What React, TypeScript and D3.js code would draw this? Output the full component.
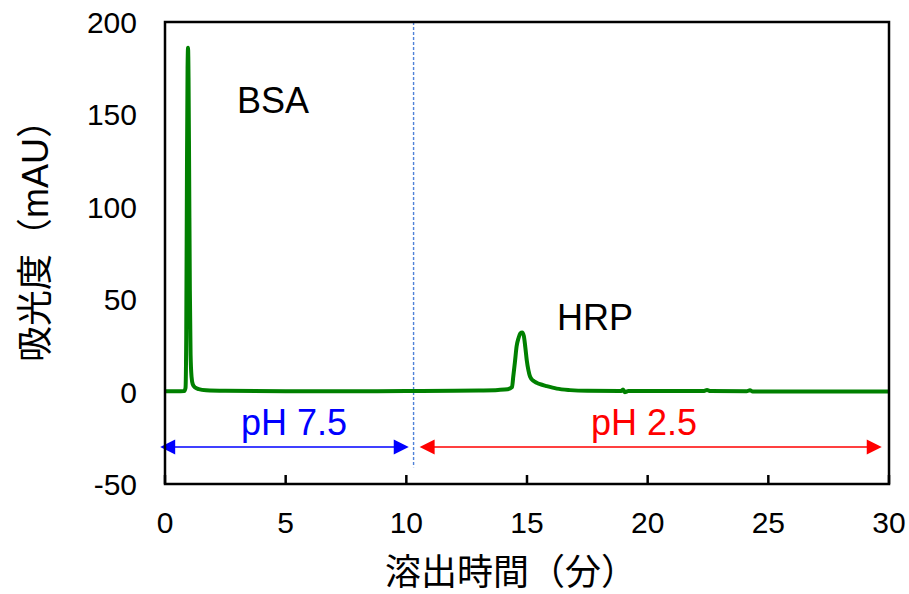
import React from "react";
import * as d3 from "d3";

const timeMin = [0, 0.5, 0.8, 0.85, 0.88, 0.91, 0.935, 0.955, 0.975, 1.0, 1.03, 1.06, 1.1, 1.15, 1.25, 1.4, 1.7, 2.5, 5, 8, 10, 12, 13, 13.8, 14.2, 14.38, 14.43, 14.5, 14.57, 14.65, 14.72, 14.8, 14.87, 14.93, 14.99, 15.06, 15.13, 15.25, 15.4, 15.54, 15.8, 16.23, 16.78, 17.5, 18.9, 18.98, 19.05, 19.2, 22.3, 22.46, 22.6, 24.1, 24.24, 24.35, 30];
const absorbance = [0.2, 0.2, 0.3, 2, 30, 120, 175, 186, 170, 120, 55, 20, 8, 4, 2.2, 1.3, 0.7, 0.4, 0.2, 0.2, 0.3, 0.4, 0.6, 0.9, 1.3, 2.5, 8, 16, 24.5, 29, 31.5, 32, 30, 24, 17, 11.5, 8, 6, 4.8, 4, 3, 1.6, 0.8, 0.4, 0.3, 1.2, -0.3, 0.3, 0.3, 0.8, 0.3, 0.2, 0.7, 0.1, 0.1];

const xTicks = [0, 5, 10, 15, 20, 25, 30];
const yTicks = [-50, 0, 50, 100, 150, 200];

const switchTime = 10.3;
const arrowValue = -30;
const dashBottomValue = -41;
const bsaLabel = "BSA";
const hrpLabel = "HRP";
const phLabels = ["pH 7.5", "pH 2.5"];
const xTitle = "溶出時間（分）";

const W = 909, H = 594;
const M = { left: 165, right: 889, top: 22, bottom: 484 };

export default function App() {
  const x = d3.scaleLinear().domain([0, 30]).range([M.left, M.right]);
  const y = d3.scaleLinear().domain([-50, 200]).range([M.bottom, M.top]);
  const data = timeMin.map((t, i) => [t, absorbance[i]] as [number, number]);
  const line = d3.line<[number, number]>().x(d => x(d[0])).y(d => y(d[1])).curve(d3.curveMonotoneX);
  const latin = "'Liberation Sans', Arial, sans-serif";
  const cjk = "'Noto Sans CJK JP', sans-serif";
  const ay = y(arrowValue);
  const head = (tipX: number, dir: number) => {
    const L = 15, h = 7.5;
    return `${tipX},${ay} ${tipX - dir * L},${ay - h} ${tipX - dir * L},${ay + h}`;
  };
  const bL = x(-0.2), bR = x(10.1), rL = x(10.55), rR = x(29.7);
  return (
    <div style={{ position: "absolute", left: 0, top: 0 }}>
      <svg width={W} height={H} style={{ display: "block", background: "#fff" }}>
        <defs>
          <clipPath id="plot">
            <rect x={M.left} y={M.top} width={M.right - M.left} height={M.bottom - M.top} />
          </clipPath>
        </defs>
        {/* x ticks */}
        {xTicks.map(t => (
          <line key={"xt" + t} x1={x(t)} x2={x(t)} y1={M.bottom} y2={M.bottom - 9} stroke="#000" strokeWidth={2.5} />
        ))}
        {/* dashed vertical */}
        <line x1={x(switchTime)} x2={x(switchTime)} y1={M.top} y2={y(dashBottomValue)} stroke="#4F81D8" strokeWidth={1.4} strokeDasharray="3,2" />
        {/* series */}
        <path d={line(data) || ""} fill="none" stroke="#008000" strokeWidth={4} strokeLinejoin="round" clipPath="url(#plot)" />
        {/* arrows */}
        <line x1={bL + 10} x2={bR - 10} y1={ay} y2={ay} stroke="#0000FF" strokeWidth={1.5} />
        <polygon points={head(bL, -1)} fill="#0000FF" />
        <polygon points={head(bR, 1)} fill="#0000FF" />
        <line x1={rL + 10} x2={rR - 10} y1={ay} y2={ay} stroke="#FF0000" strokeWidth={1.5} />
        <polygon points={head(rL, -1)} fill="#FF0000" />
        <polygon points={head(rR, 1)} fill="#FF0000" />
        {/* frame */}
        <rect x={M.left} y={M.top} width={M.right - M.left} height={M.bottom - M.top} fill="none" stroke="#000" strokeWidth={2.5} />
        {/* tick labels */}
        {xTicks.map(t => (
          <text key={"xl" + t} x={x(t)} y={533} textAnchor="middle" fontFamily={latin} fontSize={30} fill="#000">{t}</text>
        ))}
        {yTicks.map(t => (
          <text key={"yl" + t} x={137} y={y(t) + 11} textAnchor="end" fontFamily={latin} fontSize={30} fill="#000">{t}</text>
        ))}
        {/* annotations */}
        <text x={237} y={113} fontFamily={latin} fontSize={36} fill="#000">{bsaLabel}</text>
        <text x={557} y={330} fontFamily={latin} fontSize={36} fill="#000">{hrpLabel}</text>
        <text x={294} y={435} textAnchor="middle" fontFamily={latin} fontSize={36} fill="#0000FF">{phLabels[0]}</text>
        <text x={644} y={435} textAnchor="middle" fontFamily={latin} fontSize={36} fill="#FF0000">{phLabels[1]}</text>
        {/* axis titles */}
        <text x={511} y={585} textAnchor="middle" fontFamily={cjk} fontSize={36} fill="#000">{xTitle}</text>
        <text transform={`translate(48, 232) rotate(-90)`} textAnchor="middle" fontFamily={cjk} fontSize={36} fill="#000">
          吸光度（<tspan fontFamily={latin}>mAU</tspan>）
        </text>
      </svg>
    </div>
  );
}
